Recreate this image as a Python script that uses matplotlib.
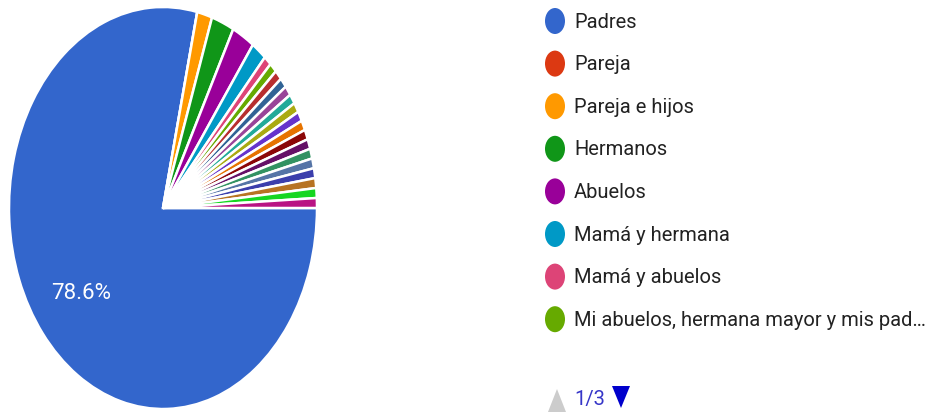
import matplotlib
matplotlib.use("Agg")
import matplotlib.pyplot as plt
from matplotlib.patches import Ellipse, Polygon

plt.rcParams['font.family'] = ['Roboto', 'DejaVu Sans']

# responses per group (126 answers in total)
values = [99, 0, 2, 3, 3, 2, 1, 1, 1, 1, 1, 1, 1, 1, 1, 1, 1, 1, 1, 1, 1, 1, 1]
colors = ['#3366cc', '#dc3912', '#ff9900', '#109618', '#990099', '#0099c6',
          '#dd4477', '#66aa00', '#b82e2e', '#316395', '#994499', '#22aa99',
          '#aaaa11', '#6633cc', '#e67300', '#8b0707', '#651067', '#329262',
          '#5574a6', '#3b3eac', '#b77322', '#16d620', '#b91383']
# legend page 1 of 3
legend_labels = ['Padres', 'Pareja', 'Pareja e hijos', 'Hermanos', 'Abuelos',
                 'Mamá y hermana', 'Mamá y abuelos',
                 'Mi abuelos, hermana mayor y mis pad…']
page_text = '1/3'

W, H = 947, 412
fig = plt.figure(figsize=(W / 100, H / 100), dpi=100)

# pie is drawn a bit narrower than tall, like the screenshot
ax = fig.add_axes([9 / W, 3 / H, 308 / W, 402 / H])
wedges, texts, autotexts = ax.pie(
    values, colors=colors, startangle=0, counterclock=False,
    autopct=lambda p: f'{p:.1f}%' if p > 5 else '',
    pctdistance=0.68,
    wedgeprops=dict(edgecolor='white', linewidth=1.8),
    textprops=dict(color='white', fontsize=16))
ax.set_aspect('auto')
ax.set_xlim(-1.0, 1.0)
ax.set_ylim(-1.0, 1.0)

# legend drawn by hand in pixel coords
lg = fig.add_axes([0, 0, 1, 1])
lg.set_xlim(0, W)
lg.set_ylim(H, 0)
lg.axis('off')
lg.patch.set_alpha(0)

y0, step = 21, 42.6
for i, lab in enumerate(legend_labels):
    y = y0 + i * step
    lg.add_patch(Ellipse((555, y), 20, 26, color=colors[i], lw=0))
    lg.text(574, y + 1, lab, fontsize=14.5, color='#222222', va='center', ha='left')

# pager
lg.add_patch(Polygon([(548, 412), (566, 412), (557, 389)], closed=True,
                     color='#cccccc', lw=0))
lg.text(574, 399, page_text, fontsize=14.5, color='#3636c8', va='center', ha='left')
lg.add_patch(Polygon([(612, 386), (630, 386), (621, 408)], closed=True,
                     color='#0000cc', lw=0))

fig.savefig('out.png', dpi=100)
